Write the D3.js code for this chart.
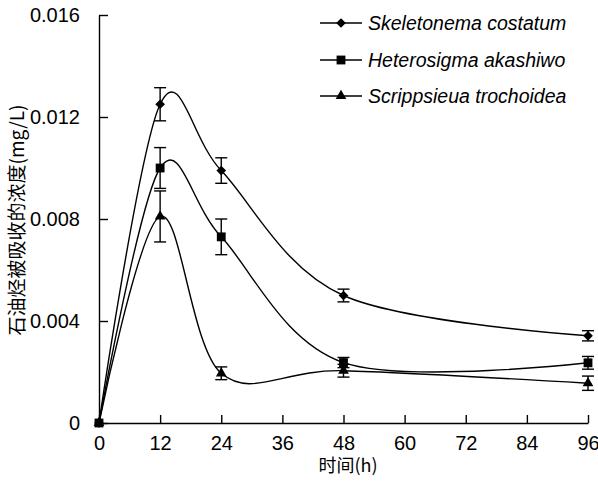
<!DOCTYPE html>
<html>
<head>
<meta charset="utf-8">
<script src="https://cdn.jsdelivr.net/npm/d3@7"></script>
<style>
  body { margin: 0; background: #fff; }
  svg { display: block; font-family: "Liberation Sans", Arial, sans-serif; }
</style>
</head>
<body>
<svg width="598" height="484"></svg>
<script>
const times = [0, 12, 24, 48, 96];
const xTicks = [0, 12, 24, 36, 48, 60, 72, 84, 96];
const yTicks = [0, 0.004, 0.008, 0.012, 0.016];

const skeletonema = [0, 0.0125, 0.0099, 0.0050, 0.00342];
const skeletonemaErr = [0, 0.00065, 0.0005, 0.00025, 0.0002];
const heterosigma = [0, 0.0100, 0.0073, 0.00237, 0.00236];
const heterosigmaErr = [0, 0.0008, 0.0007, 0.0002, 0.00025];
const scrippsieua = [0, 0.0081, 0.00195, 0.00205, 0.00156];
const scrippsieuaErr = [0, 0.001, 0.00025, 0.00025, 0.00028];

const seriesNames = ["Skeletonema costatum", "Heterosigma akashiwo", "Scrippsieua trochoidea"];

const series = [
  { name: seriesNames[0], values: skeletonema, err: skeletonemaErr, symbol: d3.symbolDiamond2, size: 60 },
  { name: seriesNames[1], values: heterosigma, err: heterosigmaErr, symbol: d3.symbolSquare, size: 78 },
  { name: seriesNames[2], values: scrippsieua, err: scrippsieuaErr, symbol: d3.symbolTriangle, size: 50 }
];

const svg = d3.select("svg");
const x = d3.scaleLinear().domain([0, 96]).range([99, 588]);
const y = d3.scaleLinear().domain([0, 0.016]).range([423, 15]);

const fmt = d => d === 0 ? "0" : d3.format(".3f")(d);

// axes
const xAxis = svg.append("g")
  .attr("transform", `translate(0,${y(0)})`)
  .call(d3.axisBottom(x).tickValues(xTicks).tickSizeInner(-8).tickSizeOuter(0).tickPadding(13));
const yAxis = svg.append("g")
  .attr("transform", `translate(${x(0)},0)`)
  .call(d3.axisLeft(y).tickValues(yTicks).tickFormat(fmt).tickSizeInner(-9).tickSizeOuter(0).tickPadding(19));

[xAxis, yAxis].forEach(g => {
  g.select(".domain").attr("stroke", "#000").attr("stroke-width", 1.4);
  g.selectAll(".tick line").attr("stroke", "#000").attr("stroke-width", 1.4);
  g.selectAll(".tick text").attr("fill", "#000").style("font-size", "20px");
});

svg.append("text")
  .attr("x", 348).attr("y", 472)
  .attr("text-anchor", "middle")
  .style("font-size", "18px")
  .style("font-family", "'Noto Sans CJK SC', 'Liberation Sans', sans-serif")
  .text("时间(h)");

svg.append("text")
  .attr("transform", "translate(24,220) rotate(-90)")
  .attr("text-anchor", "middle")
  .style("font-size", "19px")
  .style("font-family", "'Noto Sans CJK SC', 'Liberation Sans', sans-serif")
  .text("石油烃被吸收的浓度(mg/L)");

const line = d3.line()
  .x(d => x(d[0]))
  .y(d => y(d[1]))
  .curve(d3.curveCardinal.tension(0));

series.forEach(s => {
  const pts = times.map((t, i) => [t, s.values[i], s.err[i]]);
  svg.append("path")
    .datum(pts)
    .attr("fill", "none")
    .attr("stroke", "#000")
    .attr("stroke-width", 1.4)
    .attr("d", line);

  const eb = svg.append("g").attr("stroke", "#000").attr("stroke-width", 1.4);
  pts.filter(p => p[2] > 0).forEach(p => {
    const cx = x(p[0]);
    eb.append("line").attr("x1", cx).attr("x2", cx).attr("y1", y(p[1] - p[2])).attr("y2", y(p[1] + p[2]));
    [p[1] - p[2], p[1] + p[2]].forEach(v => {
      eb.append("line").attr("x1", cx - 6).attr("x2", cx + 6).attr("y1", y(v)).attr("y2", y(v));
    });
  });

  svg.append("g").selectAll("path")
    .data(pts)
    .join("path")
    .attr("transform", p => `translate(${x(p[0])},${y(p[1])})`)
    .attr("d", d3.symbol().type(s.symbol).size(s.size))
    .attr("fill", "#000");
});

// legend
const legendY = [23, 60, 96];
series.forEach((s, i) => {
  const g = svg.append("g").attr("transform", `translate(320,${legendY[i]})`);
  g.append("line").attr("x1", 0).attr("x2", 42).attr("stroke", "#000").attr("stroke-width", 1.4);
  g.append("path").attr("transform", "translate(21,0)")
    .attr("d", d3.symbol().type(s.symbol).size(s.size)).attr("fill", "#000");
  g.append("text").attr("x", 48).attr("y", 7)
    .style("font-size", "19.5px").style("font-style", "italic")
    .text(s.name);
});
</script>
</body>
</html>
